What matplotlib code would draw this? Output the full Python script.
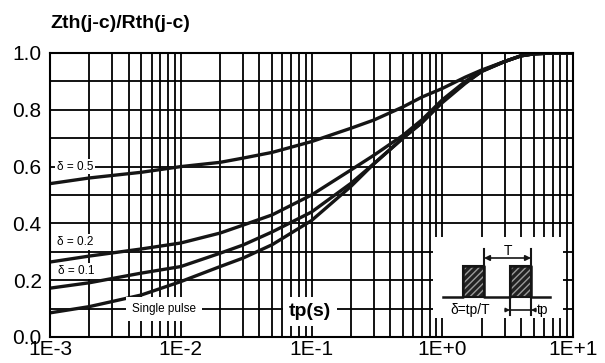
import matplotlib.pyplot as plt
import numpy as np
from matplotlib.patches import Rectangle
from matplotlib.ticker import LogLocator, FixedLocator, NullFormatter

plt.rcParams['font.family'] = ['Liberation Sans', 'DejaVu Sans']

# pulse duration tp (s)
tp = [1e-3, 2e-3, 5e-3, 1e-2, 2e-2, 3e-2, 5e-2, 1e-1, 2e-1, 3e-1, 5e-1, 7e-1,
      1.0, 1.5, 2.0, 3.0, 4.0, 5.0, 7.0, 10.0]

# Zth/Rth for each duty cycle
z_d05 = [0.54, 0.56, 0.58, 0.60, 0.615, 0.63, 0.65, 0.688, 0.735, 0.764, 0.81, 0.845,
         0.875, 0.915, 0.94, 0.97, 0.99, 0.997, 1.0, 1.0]
z_d02 = [0.264, 0.285, 0.31, 0.331, 0.366, 0.394, 0.43, 0.50, 0.588, 0.64, 0.71, 0.765,
         0.835, 0.90, 0.937, 0.97, 0.99, 0.997, 1.0, 1.0]
z_d01 = [0.172, 0.191, 0.225, 0.248, 0.295, 0.324, 0.37, 0.44, 0.541, 0.61, 0.70, 0.755,
         0.83, 0.895, 0.935, 0.97, 0.99, 0.997, 1.0, 1.0]
z_single = [0.085, 0.107, 0.148, 0.195, 0.248, 0.278, 0.325, 0.41, 0.53, 0.61, 0.70, 0.755,
            0.825, 0.893, 0.935, 0.97, 0.99, 0.997, 1.0, 1.0]

xticks = [1e-3, 1e-2, 1e-1, 1e0, 1e1]
xticklabels = ['1E-3', '1E-2', '1E-1', '1E+0', '1E+1']
yticks = [0.0, 0.2, 0.4, 0.6, 0.8, 1.0]

fig = plt.figure(figsize=(6.05, 3.63), dpi=100)
ax = fig.add_axes([50/605, 1-337/363, 523/605, 284/363])

lc = '#151515'
for z in (z_d05, z_d02, z_d01, z_single):
    ax.plot(tp, z, color=lc, lw=2.4, solid_capstyle='butt', solid_joinstyle='round', zorder=2)

ax.set_xscale('log')
ax.set_xlim(1e-3, 10)
ax.set_ylim(0, 1.0)
ax.xaxis.set_major_locator(FixedLocator(xticks))
ax.xaxis.set_minor_locator(LogLocator(base=10, subs=np.arange(2, 10)))
ax.xaxis.set_minor_formatter(NullFormatter())
ax.set_xticks(xticks, xticklabels)
ax.set_yticks(yticks, ['%.1f' % v for v in yticks])
ax.yaxis.set_minor_locator(FixedLocator(np.arange(0.1, 1.0, 0.2)))
ax.tick_params(which='both', length=0, labelsize=15, colors='black')
ax.tick_params(axis='x', pad=2.5)
ax.tick_params(axis='y', pad=6)
ax.set_axisbelow(True)
ax.grid(True, which='both', color='black', lw=1.3)
for s in ax.spines.values():
    s.set_linewidth(1.5)

box = dict(boxstyle='square,pad=0.15', fc='white', ec='none')
ax.text(1.55e-3, 0.6, 'δ = 0.5', fontsize=8.5, ha='center', va='center', bbox=box)
ax.text(1.55e-3, 0.335, 'δ = 0.2', fontsize=8.5, ha='center', va='center', bbox=box)
ax.text(1.6e-3, 0.232, 'δ = 0.1', fontsize=8.5, ha='center', va='center', bbox=box)
ax.text(7.45e-3, 0.1, 'Single pulse', fontsize=8.5, ha='center', va='center',
        bbox=dict(boxstyle='square,pad=0.5', fc='white', ec='none'))
ax.text(0.098, 0.09, 'tp(s)', fontsize=14, fontweight='bold', ha='center', va='center',
        bbox=dict(boxstyle='square,pad=0.3', fc='white', ec='none'))

fig.text(50/605, 1-28/363, 'Zth(j-c)/Rth(j-c)', fontsize=14, fontweight='bold',
         ha='left', va='baseline')

# inset: pulse diagram (pixel-like coordinates)
ins = fig.add_axes([433/605, 1-318/363, 130/605, 81/363])
ins.set_xlim(433, 563)
ins.set_ylim(318, 237)
ins.set_xticks([])
ins.set_yticks([])
for s in ins.spines.values():
    s.set_visible(False)
ins.set_facecolor('white')

ins.plot([443, 463, 463, 484, 484, 510, 510, 531, 531, 550],
         [297, 297, 266, 266, 297, 297, 266, 266, 297, 297], color=lc, lw=1.8)
for x0 in (463, 510):
    ins.add_patch(Rectangle((x0, 266), 21, 31, fc='#222222', ec='#9a9a9a',
                            hatch='/////', lw=0))
    ins.add_patch(Rectangle((x0, 266), 21, 31, fc='none', ec=lc, lw=1.5))
ins.plot([484, 484], [266, 249], color=lc, lw=1.5)
ins.plot([531, 531], [266, 249], color=lc, lw=1.5)
ins.annotate('', xy=(484, 258), xytext=(531, 258),
             arrowprops=dict(arrowstyle='<|-|>', color=lc, lw=1.2,
                             mutation_scale=8, shrinkA=0, shrinkB=0))
ins.text(507.5, 251, 'T', fontsize=10, ha='center', va='center')
ins.plot([510, 510], [297, 315], color=lc, lw=1.5)
ins.plot([531, 531], [297, 315], color=lc, lw=1.5)
ins.plot([510, 531], [310, 310], color=lc, lw=1.2)
ins.annotate('', xy=(510, 310), xytext=(505, 310),
             arrowprops=dict(arrowstyle='-|>', color=lc, lw=1.0,
                             mutation_scale=6, shrinkA=0, shrinkB=0))
ins.annotate('', xy=(531, 310), xytext=(536, 310),
             arrowprops=dict(arrowstyle='-|>', color=lc, lw=1.0,
                             mutation_scale=6, shrinkA=0, shrinkB=0))
ins.text(537, 310, 'tp', fontsize=10, ha='left', va='center')
ins.text(470, 310, 'δ=tp/T', fontsize=10, ha='center', va='center')

fig.savefig('out.png', dpi=100)
